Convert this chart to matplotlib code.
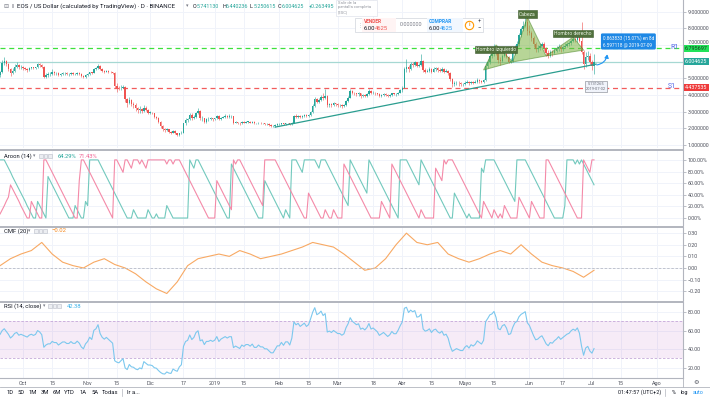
import numpy as np
import pandas as pd
import matplotlib
matplotlib.use("Agg")
import matplotlib.pyplot as plt
import matplotlib.dates as mdates
from matplotlib.patches import Polygon, Rectangle, FancyArrowPatch
from matplotlib.lines import Line2D

plt.rcParams["font.family"] = ["Roboto", "DejaVu Sans"]

# ---------------- data (EOS/USD daily) ----------------
FIRST_OPEN = 5.20
close_sep = [5.35, 5.90, 6.05, 5.85, 5.55, 5.30, 5.45, 5.70, 5.80, 5.65, 5.70]
high_sep = [5.45, 6.10, 6.25, 6.10, 5.90, 5.60, 5.60, 5.85, 5.95, 5.85, 5.80]
low_sep = [5.10, 5.30, 5.80, 5.75, 5.45, 5.15, 5.25, 5.40, 5.60, 5.55, 5.55]
close_oct = [5.60, 5.55, 5.50, 5.60, 5.65, 5.60, 5.65, 5.85, 5.80, 5.70, 5.10, 5.20, 5.25, 5.25, 5.35, 5.30,
             5.30, 5.20, 5.25, 5.30, 5.30, 5.25, 5.25, 5.30, 5.25, 5.25, 5.30, 5.25, 5.15, 5.10, 5.20]
high_oct = [5.75, 5.65, 5.60, 5.65, 5.70, 5.70, 5.70, 5.90, 5.90, 5.85, 5.75, 5.30, 5.35, 5.35, 5.55, 5.45,
            5.40, 5.35, 5.30, 5.35, 5.40, 5.35, 5.30, 5.35, 5.35, 5.30, 5.35, 5.35, 5.30, 5.20, 5.25]
low_oct = [5.50, 5.50, 5.40, 5.45, 5.55, 5.55, 5.55, 5.60, 5.70, 5.60, 5.00, 5.00, 5.10, 5.15, 5.20, 5.20,
           5.20, 5.15, 5.15, 5.20, 5.20, 5.20, 5.15, 5.20, 5.20, 5.20, 5.20, 5.20, 5.10, 5.00, 5.05]
close_nov = [5.25, 5.35, 5.30, 5.55, 5.60, 5.75, 5.55, 5.45, 5.40, 5.45, 5.40, 5.35, 5.30, 4.55, 4.45,
             4.40, 4.45, 4.50, 3.75, 3.55, 3.70, 3.45, 3.40, 3.20, 3.10, 3.15, 3.05, 3.25, 3.10, 2.95]
high_nov = [5.30, 5.40, 5.40, 5.60, 5.70, 5.85, 5.80, 5.60, 5.50, 5.50, 5.50, 5.45, 5.40, 5.35, 4.70,
            4.55, 4.60, 4.60, 4.55, 3.85, 3.90, 3.75, 3.60, 3.50, 3.30, 3.35, 3.20, 3.40, 3.35, 3.15]
low_nov = [5.15, 5.20, 5.25, 5.30, 5.50, 5.55, 5.50, 5.40, 5.30, 5.35, 5.30, 5.30, 5.25, 4.40, 4.20,
           4.30, 4.30, 4.40, 3.60, 3.30, 3.45, 3.35, 3.20, 3.05, 2.90, 2.95, 2.90, 3.00, 3.05, 2.85]
close_dec = [2.95, 2.90, 2.70, 2.65, 2.40, 2.15, 1.95, 1.90, 1.95, 1.80, 1.75, 1.85, 1.70, 1.60, 1.70, 1.75,
             2.30, 2.50, 2.55, 2.80, 2.60, 2.70, 2.95, 3.05, 2.60, 2.65, 2.40, 2.55, 2.55, 2.60, 2.55]
high_dec = [3.05, 3.00, 2.95, 2.75, 2.70, 2.45, 2.20, 2.05, 2.05, 1.95, 1.85, 1.90, 1.90, 1.75, 1.75, 1.85,
            2.35, 2.60, 2.65, 2.95, 2.90, 2.80, 3.00, 3.25, 3.10, 2.75, 2.65, 2.60, 2.70, 2.70, 2.65]
low_dec = [2.85, 2.85, 2.65, 2.55, 2.35, 2.05, 1.85, 1.80, 1.85, 1.75, 1.65, 1.70, 1.65, 1.55, 1.55, 1.65,
           1.75, 2.20, 2.40, 2.50, 2.50, 2.55, 2.65, 2.85, 2.50, 2.45, 2.35, 2.35, 2.45, 2.50, 2.45]
close_jan = [2.60, 2.75, 2.55, 2.65, 2.70, 2.75, 2.70, 2.75, 2.75, 2.35, 2.40, 2.35, 2.30, 2.40, 2.35, 2.40,
             2.40, 2.35, 2.40, 2.30, 2.30, 2.35, 2.30, 2.30, 2.25, 2.25, 2.20, 2.15, 2.15, 2.20, 2.25]
high_jan = [2.65, 2.80, 2.80, 2.70, 2.75, 2.85, 2.80, 2.85, 2.80, 2.75, 2.45, 2.40, 2.40, 2.45, 2.45, 2.45,
            2.45, 2.45, 2.45, 2.45, 2.35, 2.40, 2.40, 2.35, 2.35, 2.30, 2.30, 2.25, 2.20, 2.25, 2.30]
low_jan = [2.50, 2.55, 2.50, 2.50, 2.60, 2.65, 2.60, 2.65, 2.65, 2.25, 2.30, 2.25, 2.20, 2.25, 2.30, 2.30,
           2.30, 2.30, 2.30, 2.25, 2.25, 2.25, 2.25, 2.25, 2.20, 2.20, 2.15, 2.10, 2.10, 2.10, 2.15]
close_feb = [2.25, 2.30, 2.25, 2.30, 2.30, 2.25, 2.35, 2.75, 2.70, 2.75, 2.70, 2.75, 2.80, 2.75, 2.80, 3.00,
             3.35, 3.75, 3.60, 3.70, 3.90, 3.80, 3.95, 3.40, 3.45, 3.40, 3.50, 3.45]
high_feb = [2.30, 2.35, 2.35, 2.35, 2.35, 2.35, 2.40, 2.80, 2.85, 2.80, 2.80, 2.80, 2.85, 2.85, 2.85, 3.05,
            3.45, 3.90, 3.85, 3.80, 4.00, 4.10, 4.35, 4.00, 3.55, 3.55, 3.60, 3.55]
low_feb = [2.20, 2.20, 2.20, 2.20, 2.25, 2.20, 2.20, 2.30, 2.60, 2.65, 2.60, 2.65, 2.70, 2.70, 2.70, 2.75,
           2.95, 3.30, 3.50, 3.55, 3.65, 3.70, 3.75, 3.30, 3.30, 3.30, 3.35, 3.35]
close_mar = [3.40, 3.40, 3.35, 3.40, 3.65, 3.85, 4.25, 4.15, 4.10, 4.05, 4.10, 3.95, 4.00, 3.95, 4.05, 4.25,
             4.10, 4.15, 4.10, 4.05, 3.95, 4.00, 4.05, 4.00, 3.95, 4.00, 4.10, 4.05, 4.05, 4.15, 4.30]
high_mar = [3.50, 3.45, 3.45, 3.45, 3.70, 3.95, 4.35, 4.30, 4.20, 4.15, 4.20, 4.15, 4.05, 4.05, 4.10, 4.35,
            4.30, 4.25, 4.20, 4.15, 4.10, 4.05, 4.10, 4.10, 4.05, 4.05, 4.15, 4.15, 4.10, 4.20, 4.35]
low_mar = [3.30, 3.30, 3.25, 3.30, 3.35, 3.60, 3.80, 4.05, 4.00, 3.95, 3.95, 3.85, 3.90, 3.90, 3.90, 4.00,
           4.05, 4.05, 4.00, 4.00, 3.90, 3.90, 3.95, 3.95, 3.90, 3.90, 3.95, 4.00, 3.95, 4.00, 4.10]
close_apr = [4.45, 5.55, 5.70, 5.55, 5.85, 5.80, 5.95, 5.75, 5.80, 6.05, 5.50, 5.40, 5.45, 5.55, 5.40,
             5.55, 5.60, 5.50, 5.45, 5.55, 5.40, 5.45, 5.30, 4.95, 4.65, 4.70, 4.75, 4.70, 4.65, 4.65]
high_apr = [4.55, 5.70, 6.15, 5.80, 5.95, 5.95, 6.05, 6.00, 5.90, 6.45, 6.10, 5.60, 5.55, 5.65, 5.60,
            5.65, 5.70, 5.70, 5.60, 5.65, 5.60, 5.55, 5.50, 5.35, 5.00, 4.85, 4.85, 4.85, 4.80, 4.75]
low_apr = [4.20, 4.40, 5.40, 5.40, 5.50, 5.65, 5.75, 5.65, 5.65, 5.75, 5.40, 5.30, 5.35, 5.40, 5.30,
           5.35, 5.45, 5.40, 5.40, 5.40, 5.30, 5.35, 5.20, 4.85, 4.50, 4.55, 4.60, 4.55, 4.55, 4.55]
close_may = [4.75, 4.80, 4.70, 4.80, 4.75, 4.80, 4.90, 4.85, 4.80, 4.90, 5.75, 6.00, 6.35, 6.45, 6.75, 6.55,
             6.10, 6.05, 6.35, 6.45, 6.30, 6.00, 6.05, 6.50, 6.90, 7.05, 7.60, 7.95, 8.15, 8.40, 7.85]
high_may = [4.85, 4.90, 4.85, 4.85, 4.85, 4.90, 5.00, 4.95, 4.90, 4.95, 5.90, 6.15, 6.45, 6.65, 7.05, 6.90,
            6.60, 6.30, 6.45, 6.60, 6.50, 6.35, 6.20, 6.60, 7.00, 7.25, 7.70, 8.10, 8.45, 8.70, 8.60]
low_may = [4.60, 4.70, 4.60, 4.65, 4.65, 4.70, 4.75, 4.75, 4.70, 4.75, 4.85, 5.60, 5.85, 6.20, 6.35, 6.40,
           5.90, 5.80, 6.00, 6.25, 6.20, 5.90, 5.90, 5.95, 6.40, 6.80, 6.95, 7.45, 7.85, 8.05, 7.60]
close_jun = [7.70, 7.40, 7.05, 6.75, 6.80, 6.95, 7.05, 6.80, 6.50, 6.35, 6.55, 6.50, 6.65, 6.75, 6.90,
             6.75, 6.85, 6.95, 7.05, 7.10, 7.25, 7.35, 7.30, 7.45, 7.25, 6.60, 5.85, 6.25, 6.35, 5.95]
high_jun = [8.20, 7.85, 7.55, 7.15, 7.00, 7.10, 7.20, 7.15, 6.90, 6.70, 6.70, 6.70, 6.80, 6.95, 7.05,
            7.00, 7.00, 7.10, 7.20, 7.25, 7.35, 7.50, 7.45, 7.55, 7.50, 8.40, 6.70, 6.60, 6.65, 6.50]
low_jun = [7.60, 7.25, 6.85, 6.55, 6.60, 6.70, 6.85, 6.65, 6.35, 6.20, 6.25, 6.35, 6.45, 6.55, 6.65,
           6.55, 6.65, 6.80, 6.85, 6.95, 7.00, 7.15, 7.15, 7.20, 7.15, 6.45, 5.55, 5.70, 6.10, 5.80]
close_jul = [5.741130, 6.004625]
high_jul = [6.10, 6.440236]
low_jul = [5.50, 5.250615]

closes = (close_sep + close_oct + close_nov + close_dec + close_jan + close_feb + close_mar
          + close_apr + close_may + close_jun + close_jul)
highs = (high_sep + high_oct + high_nov + high_dec + high_jan + high_feb + high_mar
         + high_apr + high_may + high_jun + high_jul)
lows = (low_sep + low_oct + low_nov + low_dec + low_jan + low_feb + low_mar
        + low_apr + low_may + low_jun + low_jul)
opens = [FIRST_OPEN] + closes[:-1]
dates = pd.date_range("2018-09-20", periods=len(closes), freq="D")

# indicator values for the first 14 bars (their look-back lies before the data above)
rsi_head = [56, 60, 62, 59, 56, 52, 54, 57, 58, 55, 56, 55, 54, 53]
aroon_up_head = [100, 100, 100, 93, 86, 79, 71, 64, 57, 50, 43, 36, 29, 21]
aroon_dn_head = [7, 14, 21, 29, 36, 57, 50, 43, 36, 29, 21, 14, 7, 0]

# Chaikin money flow (20), every 5 days
cmf_vals = [0.02, 0.08, 0.12, 0.15, 0.22, 0.12, 0.05, 0.02, 0.00, 0.05, 0.08, 0.03, 0.00, -0.05,
            -0.12, -0.18, -0.22, -0.12, 0.02, 0.08, 0.10, 0.12, 0.10, 0.15, 0.12, 0.08, 0.10, 0.12,
            0.15, 0.18, 0.22, 0.20, 0.18, 0.12, 0.05, -0.02, 0.00, 0.08, 0.20, 0.30, 0.22, 0.20,
            0.22, 0.12, 0.08, 0.05, 0.08, 0.12, 0.15, 0.12, 0.20, 0.12, 0.05, 0.02, 0.00, -0.03,
            -0.08, -0.02]
cmf_dates = pd.date_range("2018-09-20", periods=len(cmf_vals), freq="5D")

# drawings
R1, S1, LAST = 6.795697, 4.437535, 6.004625
trend_dates = ["2019-01-30", "2019-07-03"]
trend_prices = [2.08, 5.85]
hs_dates = ["2019-05-10", "2019-05-16", "2019-05-24", "2019-05-31", "2019-06-09", "2019-06-22", "2019-06-27"]
hs_prices = [5.50, 7.00, 5.98, 8.67, 6.34, 7.47, 6.69]
tick_dates = ["2018-10-01", "2018-10-15", "2018-11-01", "2018-11-15", "2018-12-01", "2018-12-17",
              "2019-01-01", "2019-01-15", "2019-02-01", "2019-02-15", "2019-03-01", "2019-03-18",
              "2019-04-01", "2019-04-15", "2019-05-01", "2019-05-15", "2019-06-01", "2019-06-17",
              "2019-07-01", "2019-07-15", "2019-08-01"]
tick_labels = ["Oct", "15", "Nov", "15", "Dic", "17", "2019", "15", "Feb", "15", "Mar", "18", "Abr", "15",
               "Mayo", "15", "Jun", "17", "Jul", "15", "Ago"]


# ---------------- indicators ----------------
def rsi(c, n=14):
    c = np.asarray(c, float)
    d = np.diff(c)
    up, dn = np.clip(d, 0, None), np.clip(-d, 0, None)
    out = np.full(len(c), np.nan)
    au, ad = up[:n].mean(), dn[:n].mean()
    out[n] = 100 - 100 / (1 + au / ad)
    for i in range(n, len(d)):
        au = (au * (n - 1) + up[i]) / n
        ad = (ad * (n - 1) + dn[i]) / n
        out[i + 1] = 100 - 100 / (1 + au / ad)
    return out


def aroon(h, l, n=14):
    h, l = np.asarray(h), np.asarray(l)
    up = np.full(len(h), np.nan)
    dn = np.full(len(h), np.nan)
    for i in range(n, len(h)):
        wh, wl = h[i - n:i + 1][::-1], l[i - n:i + 1][::-1]
        up[i] = 100 * (n - np.argmax(wh)) / n
        dn[i] = 100 * (n - np.argmin(wl)) / n
    return up, dn


rsi_vals = rsi(closes)
rsi_vals[:14] = rsi_head
ar_up, ar_dn = aroon(highs, lows)
ar_up[:14] = aroon_up_head
ar_dn[:14] = aroon_dn_head

# ---------------- figure ----------------
W, H = 710, 399
UP, DN = "#26a69a", "#ef5350"
TXT, GRID, SEP = "#50535e", "#f0f3fa", "#b2b5be"
FS = 3.9


def fx(px):
    return px / W


def fy(py):
    return 1 - py / H


fig = plt.figure(figsize=(W / 100, H / 100), dpi=100)
ax_p = fig.add_axes([0, fy(148), fx(683), 148 / H])
ax_a = fig.add_axes([0, fy(225), fx(683), 75 / H], sharex=ax_p)
ax_c = fig.add_axes([0, fy(300), fx(683), 73 / H], sharex=ax_p)
ax_r = fig.add_axes([0, fy(378), fx(683), 76 / H], sharex=ax_p)

x = mdates.date2num(dates)
oct1 = mdates.date2num(pd.Timestamp("2018-10-01"))
tx = mdates.date2num(pd.to_datetime(tick_dates))

for ax in (ax_p, ax_a, ax_c, ax_r):
    ax.set_facecolor("white")
    for s in ("left", "bottom", "top"):
        ax.spines[s].set_visible(False)
    ax.spines["right"].set_color(SEP)
    ax.spines["right"].set_linewidth(0.8)
    ax.yaxis.tick_right()
    ax.tick_params(axis="y", labelsize=FS, labelcolor=TXT, color=SEP, length=2, width=0.6, pad=1.2)
    ax.tick_params(axis="x", length=0, labelbottom=False)
    ax.set_xticks(tx)
    ax.grid(True, color=GRID, lw=0.7)
    ax.set_axisbelow(True)
for ax in (ax_a, ax_c, ax_r):
    ax.spines["top"].set_visible(True)
    ax.spines["top"].set_color(SEP)
    ax.spines["top"].set_linewidth(1.4)
ax_r.spines["bottom"].set_visible(True)
ax_r.spines["bottom"].set_color(SEP)
ax_r.spines["bottom"].set_linewidth(0.8)
ax_r.tick_params(axis="x", labelbottom=True, labelsize=FS, labelcolor=TXT, pad=2.5)
ax_r.set_xticklabels(tick_labels)
ax_p.set_xlim(oct1 - 11.04, oct1 + 316.7)

# ---- price panel ----
o, h, l, c = map(np.asarray, (opens, highs, lows, closes))
cols = np.where(c >= o, UP, DN)
ax_p.vlines(x, l, h, colors=cols, lw=0.55, alpha=0.75, zorder=3)
ax_p.bar(x, np.maximum(np.abs(c - o), 0.02), bottom=np.minimum(o, c), width=0.7,
         color=cols, lw=0, zorder=3)
ax_p.set_ylim(0.83, 9.69)
ax_p.set_yticks(range(1, 10))
# the 6.0 label sits under the last-price tag
ax_p.set_yticklabels(["" if v == 6 else f"{v:.6f}" for v in range(1, 10)])
for lab in ax_p.get_yticklabels():
    if lab.get_text() == "7.000000":
        lab.set_va("bottom")

ax_p.axhline(LAST, color="#a6d8d3", lw=0.9, zorder=2)
ax_p.axhline(R1, color="#3de03d", lw=0.9, ls=(0, (4, 3)), zorder=2)
ax_p.axhline(S1, color="#f25c5c", lw=0.9, ls=(0, (4, 3)), zorder=2)
ax_p.plot(mdates.date2num(pd.to_datetime(trend_dates)), trend_prices, color="#2a9d8f", lw=0.9, zorder=4)

hx = mdates.date2num(pd.to_datetime(hs_dates))
for k in (0, 2, 4):
    pts = list(zip(hx[k:k + 3], hs_prices[k:k + 3]))
    ax_p.add_patch(Polygon(pts, closed=True, fc="#7cb342", ec="#4f8a2a", alpha=0.55, lw=0.7, zorder=4))
for k, lab, dy in ((1, "Hombro izquierdo", -0.28), (3, "Cabeza", 0.17), (5, "Hombro derecho", 0.2)):
    ax_p.text(hx[k], hs_prices[k] + dy, lab, fontsize=3.6, color="#e9f2e3", ha="center", va="center",
              zorder=6, bbox=dict(boxstyle="square,pad=0.25", fc="#50703c", ec="#3c5a2c", lw=0.4))

yt = ax_p.get_yaxis_transform()
ax_p.text(675 / 683, R1 + 0.05, "R1", transform=yt, fontsize=5, color="#5468e8", ha="center", va="center")
ax_p.text(672 / 683, S1 + 0.08, "S1", transform=yt, fontsize=5, color="#5468e8", ha="center", va="center")

# price tags on the axis
for val, fc, tc in ((R1, "#22e35a", "#1b3a1f"), (LAST, "#26a69a", "white"), (S1, "#ef3b3b", "white")):
    ax_p.text(1.003, val, f"{val:.6f}", transform=yt, fontsize=FS, color=tc,
              ha="left", va="center", zorder=8, clip_on=False,
              bbox=dict(boxstyle="square,pad=0.2", fc=fc, ec="none"))

# projection
end_x = mdates.date2num(pd.Timestamp("2019-07-09"))
ax_p.add_patch(FancyArrowPatch((x[-1], 5.78), (end_x - 0.5, 6.6), connectionstyle="arc3,rad=0.45",
                               arrowstyle="-|>,head_length=2,head_width=1.2", color="#2196f3", lw=0.8, zorder=7))
ax_p.text(end_x - 2.8, 7.2, "0.863833 (15.07%) en 8d\n6.597118 @ 2019-07-09", fontsize=3.3, color="white",
          ha="left", va="center", zorder=8, linespacing=1.35,
          bbox=dict(boxstyle="round,pad=0.4,rounding_size=0.3", fc="#1e88e5", ec="none"))
ax_p.text(x[-1] + 1, 4.5, "5.731265\n2019-07-02", fontsize=2.9, color="#6a6d78", ha="center", va="center",
          zorder=8, linespacing=1.2,
          bbox=dict(boxstyle="square,pad=0.3", fc="#f0f3fa", ec="#9598a1", lw=0.5))

# ---- Aroon ----
ax_a.plot(x, ar_up, color="#72c9bd", lw=0.8)
ax_a.plot(x, ar_dn, color="#f48aa8", lw=0.8)
ax_a.set_ylim(-12, 117)
ax_a.set_yticks([0, 20, 40, 60, 80, 100])
ax_a.set_yticklabels([f"{v:.2f}%" for v in (0, 20, 40, 60, 80, 100)])

# ---- CMF ----
ax_c.plot(mdates.date2num(cmf_dates), cmf_vals, color="#f8a963", lw=0.8)
ax_c.axhline(0, color="#b8bcc6", lw=0.6, ls=(0, (3, 2)))
ax_c.set_ylim(-0.276, 0.353)
ax_c.set_yticks([-0.2, -0.1, 0, 0.1, 0.2, 0.3])
ax_c.set_yticklabels(["\u22120.20", "\u22120.10", "0.00", "0.10", "0.20", "0.30"])

# ---- RSI ----
ax_r.axhspan(30, 70, color="#9c27b0", alpha=0.09, lw=0)
for lev in (30, 70):
    ax_r.axhline(lev, color="#c4a8d8", lw=0.6, ls=(0, (3, 2)))
ax_r.plot(x, rsi_vals, color="#7cc8ee", lw=0.8)
ax_r.set_ylim(8.9, 90.8)
ax_r.set_yticks([20, 40, 60, 80])
ax_r.set_yticklabels(["20.00", "40.00", "60.00", "80.00"])


# ---------------- header / legends / toolbar ----------------
def ftext(px, py, s, **kw):
    kw.setdefault("fontsize", 4.2)
    kw.setdefault("color", "#131722")
    kw.setdefault("va", "center")
    return fig.text(fx(px), fy(py), s, **kw)


def fbox(x0, y0, x1, y1, fc, ec="#d6d9e0", lw=0.5, z=5):
    fig.add_artist(Rectangle((fx(x0), fy(y1)), fx(x1) - fx(x0), fy(y0) - fy(y1), transform=fig.transFigure,
                             fc=fc, ec=ec, lw=lw, zorder=z))


ftext(3, 6, "\u229f", fontsize=4.3, color="#787b86", family="DejaVu Sans")
ftext(11, 6, "II", fontsize=4.0, color="#787b86")
ftext(17, 6, "EOS / US Dollar (calculated by TradingView) \u00b7 D \u00b7 BINANCE", fontsize=4.45)
ftext(186, 6, "\u25be", fontsize=3.6, color="#787b86", family="DejaVu Sans")
for px, k, v in ((193, "O", "5.741130"), (222, "H", "6.440236"), (250, "L", "5.250615"), (278, "C", "6.004625")):
    ftext(px, 6, k, fontsize=3.9)
    ftext(px + 3.8, 6, v, fontsize=3.9, color=UP)
ftext(309, 6, "+0.263495", fontsize=3.9, color=UP)

# fullscreen tooltip
fbox(336, 0, 377, 16, "white", "#e0e3eb", z=6)
for py, s in ((2.5, "Salir de la"), (7, "pantalla completa"), (12, "(ESC)")):
    ftext(338, py, s, fontsize=3.0, color="#9598a1", zorder=7)

# buy / sell widget
fbox(355, 18, 483, 32, "white", "#d1d4dc", z=6)
fbox(362, 18.5, 396, 31.5, "#fff4f4", "none", z=6)
fbox(427, 18.5, 463, 31.5, "#f1f7fe", "none", z=6)
ftext(358, 25, "\u22ee", fontsize=4, color="#b2b5be", zorder=7, family="DejaVu Sans")
ftext(364, 21.5, "VENDER", fontsize=3.5, color=DN, weight="bold", zorder=7)
ftext(364, 28, "6.00", fontsize=4.2, color="#131722", zorder=7)
ftext(374.5, 28, "4625", fontsize=4.2, color=DN, zorder=7)
ftext(411, 25, "0.000000", fontsize=4.0, color="#787b86", ha="center", zorder=7)
ftext(429, 21.5, "COMPRAR", fontsize=3.5, color="#2196f3", weight="bold", zorder=7)
ftext(429, 28, "6.00", fontsize=4.2, color="#131722", zorder=7)
ftext(439.5, 28, "4625", fontsize=4.2, color="#2196f3", zorder=7)
fig.add_artist(Line2D([fx(469)], [fy(25)], marker="o", ms=6, mfc="white", mec="#ff9800", mew=0.8,
                      transform=fig.transFigure, zorder=7))
ftext(469, 25, "i", fontsize=4, color="#ff9800", ha="center", weight="bold", zorder=8)
ftext(479, 21.5, "+", fontsize=4.3, color="#50535e", ha="center", zorder=7)
ftext(479, 28.5, "\u2212", fontsize=4.3, color="#50535e", ha="center", zorder=7)

# indicator legends
ftext(4, 156, "Aroon (14)", fontsize=4.2)
ftext(33, 156, "\u25be", fontsize=3.4, color="#787b86", family="DejaVu Sans")
ftext(58, 156, "64.29%", fontsize=4.2, color="#26a69a")
ftext(79, 156, "71.43%", fontsize=4.2, color="#f06292")
ftext(4, 231, "CMF (20)", fontsize=4.2)
ftext(28, 231, "\u25be", fontsize=3.4, color="#787b86", family="DejaVu Sans")
ftext(52, 231, "\u22120.02", fontsize=4.2, color="#f5891f")
ftext(4, 306, "RSI (14, close)", fontsize=4.2)
ftext(43, 306, "\u25be", fontsize=3.4, color="#787b86", family="DejaVu Sans")
ftext(67, 306, "42.38", fontsize=4.2, color="#3ab0e8")
for px0, py in ((39, 156), (34, 231), (48, 306)):
    for j in range(3):
        fbox(px0 + j * 4.5, py - 1.8, px0 + j * 4.5 + 3.6, py + 1.8, "#eceef2", "#b8bcc6", lw=0.4)

# bottom toolbar
fig.add_artist(Line2D([0, 1], [fy(387), fy(387)], color=SEP, lw=0.6, transform=fig.transFigure))
fig.add_artist(Line2D([fx(683), fx(683)], [fy(378), fy(387)], color=SEP, lw=0.6, transform=fig.transFigure))
ftext(696, 382, "\u2699", fontsize=4.5, color="#50535e", ha="center", family="DejaVu Sans")
for px, s in ((7, "1D"), (18, "5D"), (29, "1M"), (41, "3M"), (53, "6M"), (64, "YTD"), (80, "1A"),
              (91, "5A"), (102, "Todas")):
    ftext(px, 392.5, s, fontsize=4.2)
fig.add_artist(Line2D([fx(122), fx(122)], [fy(389), fy(396)], color=SEP, lw=0.5, transform=fig.transFigure))
ftext(127, 392.5, "Ir a...", fontsize=4.2)
ftext(618, 392.5, "01:47:57 (UTC+2)", fontsize=4.0)
fig.add_artist(Line2D([fx(665), fx(665)], [fy(389), fy(396)], color=SEP, lw=0.5, transform=fig.transFigure))
ftext(672, 392.5, "%", fontsize=4.0)
ftext(681, 392.5, "log", fontsize=4.0)
ftext(693, 392.5, "auto", fontsize=4.0, color="#2196f3")

fig.savefig("out.png", dpi=100)
